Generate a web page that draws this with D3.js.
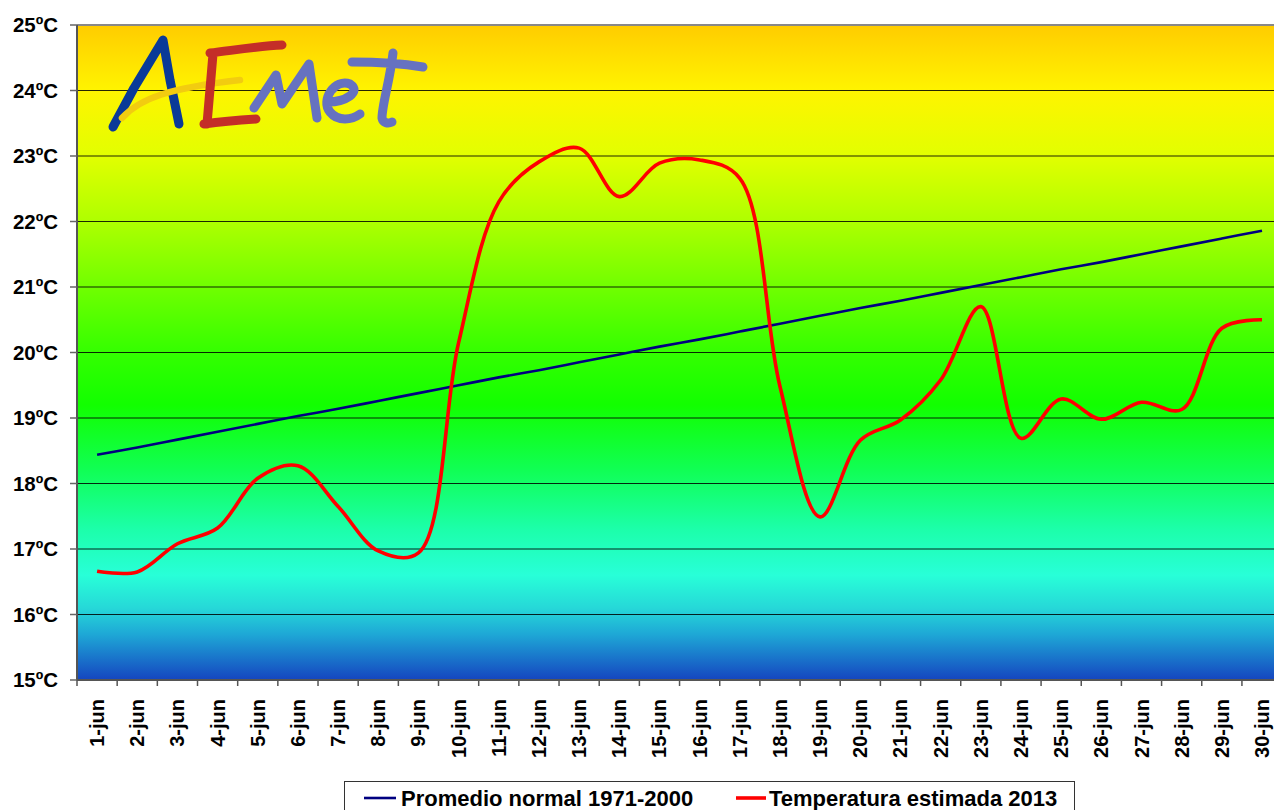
<!DOCTYPE html>
<html><head><meta charset="utf-8">
<script src="https://cdn.jsdelivr.net/npm/d3@7"></script>
<style>body{margin:0;background:#fff;overflow:hidden}svg{display:block}</style>
</head><body>
<svg id="c" width="1274" height="810"></svg>
<script>
const days = ["1-jun","2-jun","3-jun","4-jun","5-jun","6-jun","7-jun","8-jun","9-jun","10-jun","11-jun","12-jun","13-jun","14-jun","15-jun","16-jun","17-jun","18-jun","19-jun","20-jun","21-jun","22-jun","23-jun","24-jun","25-jun","26-jun","27-jun","28-jun","29-jun","30-jun"];
const normal = [18.44,18.55,18.67,18.79,18.91,19.03,19.14,19.26,19.38,19.50,19.62,19.73,19.85,19.97,20.09,20.20,20.32,20.44,20.56,20.68,20.79,20.91,21.03,21.15,21.27,21.38,21.50,21.62,21.74,21.86];
const estimada = [16.66,16.65,17.08,17.32,18.08,18.27,17.65,16.97,16.94,20.15,22.30,22.91,23.12,22.38,22.89,22.94,22.66,19.48,17.49,18.66,18.97,19.58,20.70,18.69,19.29,18.98,19.24,19.13,20.37,20.50];
const yTicks = [15,16,17,18,19,20,21,22,23,24,25];
const seriesNames = ["Promedio normal 1971-2000","Temperatura estimada 2013"];
const seriesColors = ["#000080","#FF0000"];

const svg = d3.select("#c");
const L = 77, T = 25, B = 680, R = 77 + 30*40.17;
const x = d3.scaleBand().domain(days).range([L, R]);
const y = d3.scaleLinear().domain([15,25]).range([B, T]);

// gradient background
const defs = svg.append("defs");
const g = defs.append("linearGradient").attr("id","bg").attr("x1",0).attr("y1",0).attr("x2",0).attr("y2",1);
[[0,"#FFCC00"],[0.1,"#FFF400"],[0.2,"#E2FF00"],[0.3,"#AEFF00"],[0.4,"#70FF00"],[0.5,"#34FF00"],[0.58,"#12FF00"],[0.68,"#10FF55"],[0.77,"#1CFFAA"],[0.84,"#28FFD8"],[0.89,"#26D8D8"],[0.93,"#1EA8D6"],[1,"#1545C0"]]
  .forEach(([o,c]) => g.append("stop").attr("offset",o).attr("stop-color",c));
svg.append("rect").attr("x",L).attr("y",T).attr("width",R-L).attr("height",B-T).attr("fill","url(#bg)");

// gridlines
svg.append("g").selectAll("line").data(yTicks.filter(d=>d>15 && d<25)).join("line")
  .attr("x1",L).attr("x2",R).attr("y1",d=>y(d)).attr("y2",d=>y(d))
  .attr("stroke","#000").attr("stroke-width",1.2).attr("stroke-opacity",0.85);
svg.append("line").attr("x1",L).attr("x2",R).attr("y1",T).attr("y2",T).attr("stroke","#888").attr("stroke-width",2);

// logo
const logo = svg.append("g").attr("fill","none").attr("stroke-linecap","round").attr("stroke-linejoin","round");
logo.append("path").attr("d","M113,127 L134,88 L163,40 L170,80 L179,124").attr("stroke","#0A3A98").attr("stroke-width",9);
logo.append("path").attr("d","M122,118 C140,98 170,88 240,80").attr("stroke","#F2CC10").attr("stroke-width",6.5);
logo.append("path").attr("d","M210,53 C235,50 260,46 282,45 M213,54 L207,124 M204,124 C225,121 240,120 256,119").attr("stroke","#C42E28").attr("stroke-width",9);
logo.append("path").attr("d","M254,108 L276,75 L282,104 L309,64 L317,118").attr("stroke","#6672C0").attr("stroke-width",9);
logo.append("path").attr("d","M328,102 C345,102 362,92 350,84 C335,78 320,100 330,112 C338,122 352,120 360,114").attr("stroke","#6672C0").attr("stroke-width",9);
logo.append("path").attr("d","M393,53 C390,80 382,105 382,118 C383,123 388,124 392,122 M352,62 C380,62 405,64 423,67").attr("stroke","#6672C0").attr("stroke-width",9);

// axes lines
svg.append("line").attr("x1",L).attr("x2",L).attr("y1",T).attr("y2",B).attr("stroke","#555").attr("stroke-width",2);
svg.append("line").attr("x1",L).attr("x2",R).attr("y1",B).attr("y2",B).attr("stroke","#555").attr("stroke-width",2);

// y ticks & labels
const ya = svg.append("g");
ya.selectAll("line").data(yTicks).join("line").attr("x1",70).attr("x2",L).attr("y1",d=>y(d)).attr("y2",d=>y(d)).attr("stroke","#666").attr("stroke-width",1.5);
ya.selectAll("text").data(yTicks).join("text").attr("x",58).attr("y",d=>y(d)).attr("dy","0.36em")
  .attr("text-anchor","end").attr("font-family","Liberation Sans, Arial, sans-serif").attr("font-weight","bold").attr("font-size",20.5)
  .text(d=>d+"ºC");

// x ticks & labels
const xa = svg.append("g");
const bounds = days.map(d=>x(d)).concat([R]);
xa.selectAll("line").data(bounds).join("line").attr("x1",d=>d).attr("x2",d=>d).attr("y1",B).attr("y2",B+6).attr("stroke","#555").attr("stroke-width",1.5);
xa.selectAll("text").data(days).join("text")
  .attr("transform",d=>`translate(${x(d)+x.bandwidth()/2+7},699) rotate(-90)`)
  .attr("text-anchor","end").attr("font-family","Liberation Sans, Arial, sans-serif").attr("font-weight","bold").attr("font-size",20)
  .text(d=>d);

// lines
const cx = d => x(d)+x.bandwidth()/2;
svg.append("path").datum(normal).attr("fill","none").attr("stroke",seriesColors[0]).attr("stroke-width",2.6)
  .attr("d", d3.line().x((d,i)=>cx(days[i])).y(d=>y(d)).curve(d3.curveCatmullRom.alpha(0.5)));
svg.append("path").datum(estimada).attr("fill","none").attr("stroke",seriesColors[1]).attr("stroke-width",3.6)
  .attr("d", d3.line().x((d,i)=>cx(days[i])).y(d=>y(d)).curve(d3.curveCatmullRom.alpha(0.5)));

// legend
const lg = svg.append("g");
lg.append("rect").attr("x",344.5).attr("y",781.5).attr("width",730).attr("height",40).attr("fill","#fff").attr("stroke","#333").attr("stroke-width",1);
const lx = [[364,396,401],[736,766,769]];
seriesNames.forEach((n,i)=>{
  lg.append("line").attr("x1",lx[i][0]).attr("x2",lx[i][1]).attr("y1",798).attr("y2",798).attr("stroke",seriesColors[i]).attr("stroke-width",i?3.6:2.6);
  lg.append("text").attr("x",lx[i][2]).attr("y",806).attr("font-family","Liberation Sans, Arial, sans-serif").attr("font-weight","bold").attr("font-size",22).text(n);
});
</script>
</body></html>
